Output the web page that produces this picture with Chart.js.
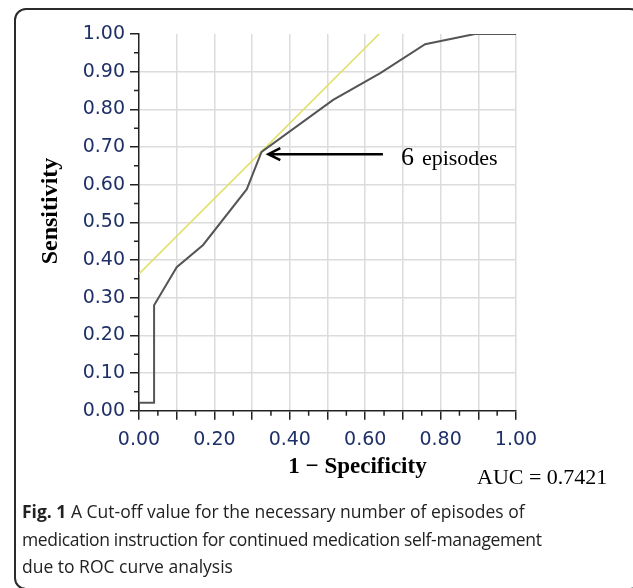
<!DOCTYPE html>
<html>
<head>
<meta charset="utf-8">
<script src="https://cdn.jsdelivr.net/npm/chart.js@4.4.1/dist/chart.umd.min.js"></script>
<style>
  html, body { margin: 0; padding: 0; background: #fff; }
  body { width: 633px; height: 588px; position: relative; overflow: hidden; }
  #frame {
    position: absolute; left: 14px; top: 8px; width: 628px; height: 582px;
    border: 2px solid #2b2b2b; border-radius: 12px; box-sizing: border-box;
  }
  #rocChart { position: absolute; left: 0; top: 0; }
  #caption {
    position: absolute; left: 22px; top: 498px; width: 605px; white-space: nowrap;
    font-family: "Open Sans", sans-serif; font-size: 17.5px; line-height: 27.5px; color: #222;
  }
  #caption .l2 { letter-spacing: -0.35px; }
</style>
</head>
<body>
<div id="frame"></div>
<canvas id="rocChart" width="633" height="500"></canvas>
<div id="caption"><b>Fig. 1</b> A Cut-off value for the necessary number of episodes of<br><span class="l2">medication instruction for continued medication self-management</span><br>due to ROC curve analysis</div>

<script>
// ROC curve (1 - specificity, sensitivity)
const rocX = [0, 0, 0.04, 0.04, 0.10, 0.17, 0.286, 0.325, 0.515, 0.64, 0.759, 0.891, 1.0];
const rocY = [0, 0.021, 0.021, 0.28, 0.381, 0.44, 0.588, 0.687, 0.825, 0.896, 0.973, 1.0, 1.0];

// yellow tangent line through the cut-off point
const tangentX = [0, 0.637];
const tangentY = [0.363, 1.0];

// arrow pointing at the cut-off (tail -> head)
const arrowX = [0.647, 0.343];
const arrowY = [0.681, 0.681];

const cutoffNumber = "6";
const cutoffUnit = "episodes";
const aucLabel = "AUC = 0.7421";
const xTitle = "1 \u2212 Specificity";
const yTitle = "Sensitivity";

const tickColor = "#1f3068";
const serif = '"Liberation Serif", "Times New Roman", serif';

// minor ticks, arrow and the texts around the plot
const annotate = {
  id: "annotate",
  afterDraw(chart) {
    const { ctx, scales: { x, y } } = chart;
    ctx.save();

    ctx.strokeStyle = "#222";
    ctx.lineWidth = 1.5;
    ctx.beginPath();
    for (let i = 1; i < 20; i += 2) {
      const px = x.getPixelForValue(i / 20);
      const py = y.getPixelForValue(i / 20);
      ctx.moveTo(px, y.bottom);
      ctx.lineTo(px, y.bottom + 5);
      ctx.moveTo(x.left, py);
      ctx.lineTo(x.left - 5, py);
    }
    ctx.stroke();

    // arrow
    const tx = x.getPixelForValue(arrowX[0]), ty = y.getPixelForValue(arrowY[0]);
    const hx = x.getPixelForValue(arrowX[1]), hy = y.getPixelForValue(arrowY[1]);
    ctx.strokeStyle = "#000";
    ctx.lineWidth = 2.5;
    ctx.beginPath();
    ctx.moveTo(tx, ty);
    ctx.lineTo(hx + 1, hy);
    ctx.moveTo(hx + 12, hy - 6);
    ctx.lineTo(hx, hy);
    ctx.lineTo(hx + 12, hy + 6);
    ctx.stroke();

    ctx.fillStyle = "#000";
    ctx.textBaseline = "alphabetic";
    ctx.textAlign = "left";
    ctx.font = "26px " + serif;
    ctx.fillText(cutoffNumber, tx + 18, ty + 11);
    ctx.font = "22px " + serif;
    ctx.fillText(cutoffUnit, tx + 39, ty + 11);

    ctx.font = "22px " + serif;
    ctx.fillText(aucLabel, 477, 484);

    ctx.font = "bold 23px " + serif;
    ctx.textAlign = "center";
    ctx.fillText(xTitle, 357.5, 472.5);

    ctx.translate(56.5, 211);
    ctx.rotate(-Math.PI / 2);
    ctx.font = "bold 24px " + serif;
    ctx.fillText(yTitle, 0, 0);

    ctx.restore();
  },
};

const ctx = document.getElementById("rocChart").getContext("2d");
const config = {
  type: "scatter",
  data: {
    datasets: [
      {
        label: "ROC",
        data: rocX.map((v, i) => ({ x: v, y: rocY[i] })),
        showLine: true,
        borderColor: "#555555",
        borderWidth: 2,
        pointRadius: 0,
        tension: 0,
      },
      {
        label: "Tangent",
        data: tangentX.map((v, i) => ({ x: v, y: tangentY[i] })),
        showLine: true,
        borderColor: "#e0e06a",
        borderWidth: 1.6,
        pointRadius: 0,
        tension: 0,
      },
    ],
  },
  options: {
    responsive: false,
    animation: false,
    devicePixelRatio: 1,
    layout: {
      padding: { left: 0, top: 34, right: 117, bottom: 0 },
    },
    plugins: {
      legend: { display: false },
      tooltip: { enabled: false },
    },
    scales: {
      x: {
        type: "linear",
        min: 0,
        max: 1,
        afterFit: (scale) => { scale.height = 89.3; },
        border: { color: "#222", width: 1.5 },
        grid: {
          color: (c) => (c.tick && c.tick.value > 0.001 ? "#dcdcdc" : "rgba(0,0,0,0)"),
          lineWidth: 1.5,
          tickColor: "#222",
          tickLength: 9,
        },
        ticks: {
          stepSize: 0.1,
          autoSkip: false,
          maxRotation: 0,
          padding: 9,
          color: tickColor,
          font: { family: "DejaVu Sans", size: 19 },
          callback: (v) => (Math.round(v * 10) % 2 === 0 ? Number(v).toFixed(2) : ""),
        },
      },
      y: {
        type: "linear",
        min: 0,
        max: 1,
        afterFit: (scale) => { scale.width = 139; },
        border: { color: "#222", width: 1.5 },
        grid: {
          color: (c) => (c.tick && c.tick.value > 0.001 && c.tick.value < 0.999 ? "#dcdcdc" : "rgba(0,0,0,0)"),
          lineWidth: 1.5,
          tickColor: "#222",
          tickLength: 9,
        },
        ticks: {
          stepSize: 0.1,
          autoSkip: false,
          padding: 5,
          color: tickColor,
          font: { family: "DejaVu Sans", size: 19 },
          callback: (v) => Number(v).toFixed(2),
        },
      },
    },
  },
  plugins: [annotate],
};

const rocChart = new Chart(ctx, config);
</script>
</body>
</html>
